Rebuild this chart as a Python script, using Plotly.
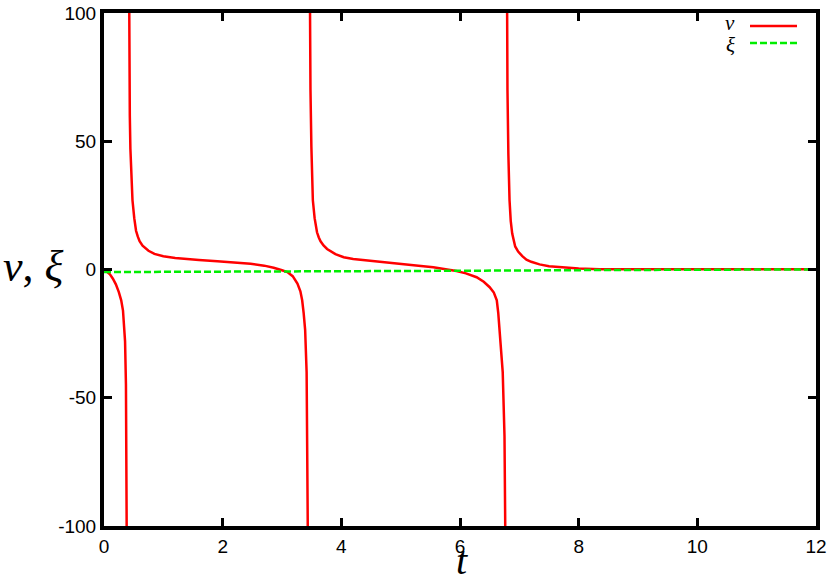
import plotly.graph_objects as go

# ---------------- data ----------------
# v(t): four branches separated by poles
t_b1 = [0.0, 0.05, 0.10, 0.15, 0.20, 0.25, 0.29, 0.32, 0.34, 0.355, 0.37, 0.38, 0.387, 0.395]
v_b1 = [0.0, -0.8, -1.9, -3.6, -5.8, -8.8, -12.0, -16.0, -22.0, -28.0, -45.0, -65.0, -100.0, -160.0]

t_b2 = [0.415, 0.423, 0.428, 0.435, 0.445, 0.455, 0.467, 0.48, 0.51, 0.54, 0.57, 0.60, 0.65,
        0.75, 0.85, 1.0, 1.2, 1.35, 1.6, 1.91, 2.2, 2.47, 2.7, 2.86, 3.0, 3.09, 3.18, 3.26,
        3.31, 3.34, 3.365, 3.39, 3.415, 3.43, 3.44, 3.45]
v_b2 = [150.0, 100.0, 80.0, 60.0, 47.0, 38.0, 32.0, 27.0, 20.0, 15.1, 12.8, 11.0, 9.3,
        7.3, 6.1, 5.2, 4.5, 4.1, 3.7, 3.2, 2.7, 2.2, 1.5, 0.7, -0.3, -1.0, -2.6, -5.5,
        -8.5, -12.0, -17.0, -23.5, -40.0, -65.0, -100.0, -150.0]

t_b3 = [3.46, 3.467, 3.473, 3.48, 3.495, 3.507, 3.52, 3.55, 3.59, 3.62, 3.65, 3.7, 3.76, 3.9,
        4.04, 4.2, 4.43, 4.7, 4.99, 5.3, 5.55, 5.75, 5.94, 6.1, 6.28, 6.4, 6.5, 6.57, 6.62,
        6.645, 6.67, 6.72, 6.75, 6.77, 6.78]
v_b3 = [150.0, 100.0, 82.0, 70.0, 48.0, 35.0, 27.0, 20.0, 14.5, 12.5, 11.0, 9.4, 8.0, 6.0,
        4.8, 4.1, 3.5, 2.9, 2.2, 1.5, 0.9, 0.2, -0.6, -1.5, -3.0, -4.8, -6.9, -9.0, -12.0,
        -17.0, -23.6, -40.0, -65.0, -100.0, -150.0]

t_b4 = [6.785, 6.79, 6.795, 6.80, 6.815, 6.825, 6.835, 6.855, 6.88, 6.93, 6.98, 7.05, 7.12,
        7.2, 7.34, 7.5, 7.79, 8.0, 8.35, 9.0, 10.0, 11.0, 12.0]
v_b4 = [150.0, 100.0, 82.0, 70.0, 45.0, 34.0, 27.0, 19.0, 14.0, 9.0, 7.0, 5.2, 3.8,
        3.0, 2.0, 1.3, 0.6, 0.35, 0.1, 0.05, 0.05, 0.05, 0.05]

# xi(t)
t_xi = [0, 2, 4, 6, 8, 10, 12]
xi = [-1.0, -0.9, -0.75, -0.5, -0.25, -0.05, 0.05]

x_ticks = [0, 2, 4, 6, 8, 10, 12]
y_ticks = [-100, -50, 0, 50, 100]

series_names = ["v", "ξ"]

# ---------------- figure ----------------
t_v = t_b1 + [None] + t_b2 + [None] + t_b3 + [None] + t_b4
v_all = v_b1 + [None] + v_b2 + [None] + v_b3 + [None] + v_b4

W, H = 830, 581
L, R, T, B = 104, 816, 13, 526  # plot area in pixels


def px_x(p):
    return (p - L) / (R - L)


def px_y(p):
    return (B - p) / (B - T)


fig = go.Figure()
fig.add_trace(go.Scatter(x=t_v, y=v_all, mode="lines", name=series_names[0],
                         connectgaps=False,
                         line=dict(color="#ff0000", width=2.5)))
fig.add_trace(go.Scatter(x=t_xi, y=xi, mode="lines", name=series_names[1],
                         line=dict(color="#00ee00", width=2.5, dash="7px,3px")))

tickfont = dict(family="Liberation Sans, Arial, sans-serif", size=19, color="black")
axis_common = dict(showgrid=False, zeroline=False, showline=True, linewidth=4,
                   linecolor="black", mirror="ticks", ticks="inside", ticklen=8,
                   tickwidth=3, tickcolor="black", tickfont=tickfont, automargin=False,
                   ticklabeloverflow="allow")

fig.update_xaxes(range=[0, 12], tickvals=x_ticks, ticktext=[str(v) for v in x_ticks],
                 **axis_common)
fig.update_yaxes(range=[-100, 100], tickvals=y_ticks, ticktext=[str(v) for v in y_ticks],
                 **axis_common)

serif = "Liberation Serif, Times New Roman, serif"
annotations = [
    dict(text="<i>v</i>, <i>ξ</i>", xref="paper", yref="paper", x=px_x(33), y=px_y(266),
         xanchor="center", yanchor="middle", showarrow=False,
         font=dict(family=serif, size=44, color="black")),
    dict(text="<i>t</i>", xref="paper", yref="paper", x=px_x(462), y=px_y(560),
         xanchor="center", yanchor="middle", showarrow=False,
         font=dict(family=serif, size=40, color="black")),
    dict(text="<i>" + series_names[0] + "</i>", xref="paper", yref="paper", x=px_x(737), y=px_y(23),
         xanchor="right", yanchor="middle", showarrow=False,
         font=dict(family=serif, size=21, color="black")),
    dict(text="<i>" + series_names[1] + "</i>", xref="paper", yref="paper", x=px_x(737), y=px_y(45),
         xanchor="right", yanchor="middle", showarrow=False,
         font=dict(family=serif, size=21, color="black")),
]

shapes = [
    dict(type="line", xref="paper", yref="paper", x0=px_x(750), x1=px_x(797),
         y0=px_y(26), y1=px_y(26), line=dict(color="#ff0000", width=2.5)),
    dict(type="line", xref="paper", yref="paper", x0=px_x(750), x1=px_x(797),
         y0=px_y(43), y1=px_y(43), line=dict(color="#00ee00", width=2.5, dash="7px,3px")),
]

fig.update_layout(width=W, height=H, showlegend=False,
                  margin=dict(l=L, r=W - R, t=T, b=H - B, pad=0, autoexpand=False),
                  plot_bgcolor="white", paper_bgcolor="white",
                  annotations=annotations, shapes=shapes)

fig.write_html("out.html", config={"displayModeBar": False},
               post_script="document.body.style.margin='0';document.body.style.overflow='hidden';")
